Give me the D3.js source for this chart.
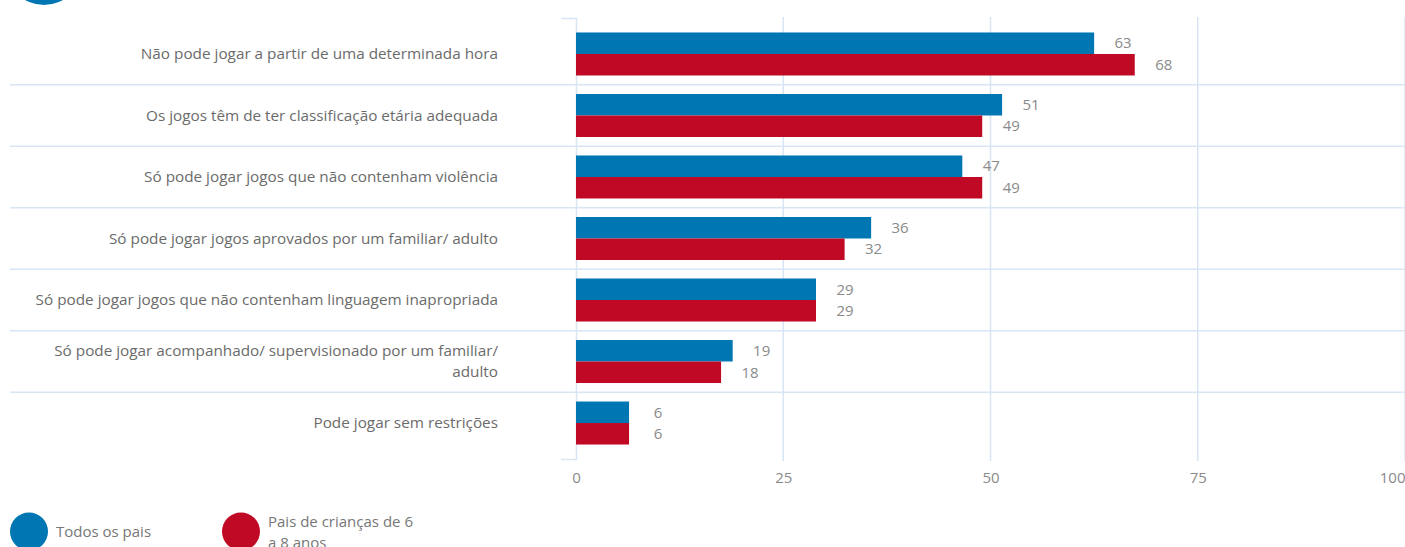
<!DOCTYPE html>
<html>
<head>
<meta charset="utf-8">
<script src="https://cdn.jsdelivr.net/npm/d3@7"></script>
<style>
  html, body { margin: 0; padding: 0; background: #fff; }
  svg { display: block; font-family: "Open Sans", "Noto Sans", sans-serif; }
</style>
</head>
<body>
<svg id="chart" width="1405" height="547"></svg>
<script>
// ---- data ----
const categories = [
  "Não pode jogar a partir de uma determinada hora",
  "Os jogos têm de ter classificação etária adequada",
  "Só pode jogar jogos que não contenham violência",
  "Só pode jogar jogos aprovados por um familiar/ adulto",
  "Só pode jogar jogos que não contenham linguagem inapropriada",
  "Só pode jogar acompanhado/ supervisionado por um familiar/ adulto",
  "Pode jogar sem restrições"
];
const seriesNames = ["Todos os pais", "Pais de crianças de 6 a 8 anos"];
const todosValues = [62.5, 51.4, 46.6, 35.6, 28.95, 18.9, 6.4];
const pais68Values = [67.4, 49.0, 49.0, 32.4, 28.95, 17.5, 6.4];
const todosLabels = ["63", "51", "47", "36", "29", "19", "6"];
const pais68Labels = ["68", "49", "49", "32", "29", "18", "6"];
const tickValues = [0, 25, 50, 75, 100];
const colors = ["#0077b3", "#c00a25"];

// ---- layout ----
const svg = d3.select("#chart");
const W = 1405;
const x = d3.scaleLinear().domain([0, 100]).range([576, 1405]);
const y = d3.scaleBand().domain(categories).range([18, 459]).paddingInner(0).paddingOuter(0.085);
const yInner = d3.scaleBand().domain(seriesNames).range([0, y.bandwidth()]).paddingInner(0).paddingOuter(0.43);
const gridColor = "#d8e5f4";

// corner circle (partially visible)
svg.append("circle").attr("cx", 44).attr("cy", -33.6).attr("r", 38.6).attr("fill", colors[0]);

// horizontal separators between categories
svg.append("g").selectAll("line")
  .data(categories.slice(1))
  .join("line")
  .attr("x1", 10).attr("x2", W)
  .attr("y1", d => y(d)).attr("y2", d => y(d))
  .attr("stroke", gridColor).attr("stroke-width", 1.5);

// vertical grid lines
svg.append("g").selectAll("line")
  .data(tickValues.filter(v => v > 0))
  .join("line")
  .attr("x1", d => x(d)).attr("x2", d => x(d))
  .attr("y1", 17).attr("y2", 461)
  .attr("stroke", gridColor).attr("stroke-width", 1.5);

// left axis (domain line with outer ticks)
const yAxis = svg.append("g")
  .attr("transform", `translate(${x(0)},0)`)
  .call(d3.axisLeft(y).tickValues([]).tickSizeOuter(15));
yAxis.select(".domain").attr("stroke", gridColor).attr("stroke-width", 1.5);

// bottom axis labels
const xAxis = svg.append("g")
  .attr("transform", "translate(0,459)")
  .call(d3.axisBottom(x).tickValues(tickValues).tickSize(0).tickPadding(13));
xAxis.select(".domain").remove();
xAxis.selectAll("text")
  .attr("fill", "#8a8a8a")
  .attr("font-size", "15px")
  .attr("font-family", "'Open Sans', sans-serif");
xAxis.selectAll(".tick").filter(d => d === 100).select("text").attr("text-anchor", "end").attr("dx", 0);

// bars
const rows = categories.map((c, i) => ({
  cat: c,
  vals: [
    { s: seriesNames[0], v: todosValues[i], lab: todosLabels[i], color: colors[0] },
    { s: seriesNames[1], v: pais68Values[i], lab: pais68Labels[i], color: colors[1] }
  ]
}));

const g = svg.append("g").selectAll("g")
  .data(rows)
  .join("g")
  .attr("transform", d => `translate(0,${y(d.cat)})`);

g.selectAll("rect")
  .data(d => d.vals)
  .join("rect")
  .attr("x", x(0))
  .attr("y", d => yInner(d.s))
  .attr("width", d => x(d.v) - x(0))
  .attr("height", yInner.bandwidth())
  .attr("fill", d => d.color);

g.selectAll("text.val")
  .data(d => d.vals)
  .join("text")
  .attr("class", "val")
  .attr("x", d => x(d.v) + 29)
  .attr("y", d => yInner(d.s) + yInner.bandwidth() / 2)
  .attr("dy", "0.35em")
  .attr("text-anchor", "middle")
  .attr("fill", "#8a8a8a")
  .attr("font-size", "15px")
  .text(d => d.lab);

// category labels with wrapping
function wrapLines(text, maxW, fontSize) {
  const tmp = svg.append("text").attr("font-size", fontSize);
  const words = text.split(" ");
  const lines = [];
  let cur = "";
  words.forEach(w => {
    const t = cur ? cur + " " + w : w;
    tmp.text(t);
    if (tmp.node().getComputedTextLength() > maxW && cur) {
      lines.push(cur);
      cur = w;
    } else cur = t;
  });
  if (cur) lines.push(cur);
  tmp.remove();
  return lines;
}

const lh = 21;
categories.forEach(c => {
  const lines = wrapLines(c, 480, "15.3px");
  const cy = y(c) + y.bandwidth() / 2;
  const t = svg.append("text")
    .attr("text-anchor", "end")
    .attr("fill", "#6b6b6b")
    .attr("font-size", "15.3px");
  lines.forEach((ln, k) => {
    t.append("tspan")
      .attr("x", 498)
      .attr("y", cy + (k - (lines.length - 1) / 2) * lh)
      .attr("dy", "0.35em")
      .text(ln);
  });
});

// legend
const legendX = [29, 241];
const lg = svg.append("g").selectAll("g")
  .data(seriesNames)
  .join("g")
  .attr("transform", (d, i) => `translate(${legendX[i]},531.5)`);
lg.append("circle").attr("r", 19).attr("fill", (d, i) => colors[i]);
lg.each(function(d) {
  const lines = wrapLines(d, 155, "15px");
  const t = d3.select(this).append("text")
    .attr("fill", "#777")
    .attr("font-size", "15px");
  lines.forEach((ln, k) => {
    t.append("tspan")
      .attr("x", 27)
      .attr("y", lines.length > 1 ? -10 + k * 21 : 0)
      .attr("dy", "0.35em")
      .text(ln);
  });
});
</script>
</body>
</html>
